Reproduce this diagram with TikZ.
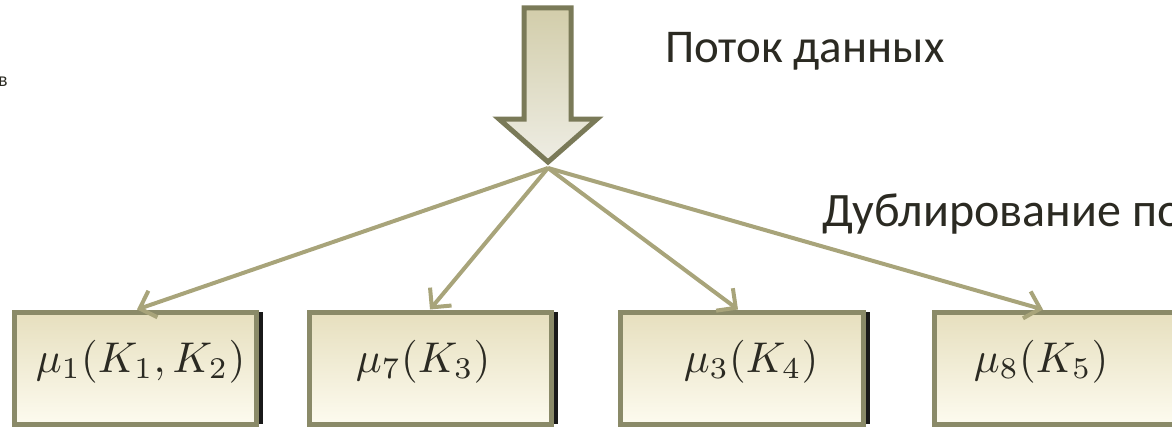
\documentclass[tikz,border=0pt]{standalone}
\usepackage[no-math]{fontspec}
\setmainfont{Carlito}
\usetikzlibrary{arrows.meta,shadows}
\definecolor{conncol}{HTML}{A8A47A}
\definecolor{boxborder}{HTML}{8A8A68}
\definecolor{arrowborder}{HTML}{7A7A58}
\definecolor{txt}{HTML}{2B2A22}
\definecolor{boxtop}{HTML}{E6DFBE}
\definecolor{boxbot}{HTML}{FDFBEF}
\definecolor{arrtop}{HTML}{D2CDAA}
\definecolor{arrbot}{HTML}{EEEDE4}
\tikzset{
  x=1pt,y=1pt,
  boxnode/.style={draw=boxborder, line width=5pt, top color=boxtop, bottom color=boxbot,
    minimum height=112pt, inner sep=0pt,
    general shadow={fill=black!90, shadow xshift=7pt, shadow yshift=0pt}},
  conn/.style={draw=conncol, line width=4pt, -{Straight Barb[length=14pt,width=28pt,line width=4pt]}},
  lbl/.style={text=txt, anchor=base west, inner sep=0pt},
  mlbl/.style={text=txt, font=\normalsize, anchor=base west, inner sep=0pt, scale=4.3, transform shape},
}
\begin{document}
\begin{tikzpicture}
\useasboundingbox (0,0) rectangle (1172,-428);
\clip (0,0) rectangle (1172,-428);
% big data arrow
\shade[top color=arrtop, bottom color=arrbot, draw=arrowborder, line width=5pt, line join=miter]
  (524,-8) -- (571,-8) -- (571,-119) -- (597,-119) -- (548,-162) -- (499,-119) -- (524,-119) -- cycle;
\coordinate (src) at (548,-168);
% boxes
\node[boxnode, minimum width=242pt] (b1) at (135,-368) {};
\node[boxnode, minimum width=242pt] (b2) at (430,-368) {};
\node[boxnode, minimum width=243pt] (b3) at (741.5,-368) {};
\node[boxnode, minimum width=251pt] (b4) at (1059.5,-368) {};
% labels in boxes
\node[mlbl] (t1) at (35,-372) {$\mu_1(K_1,K_2)$};
\node[mlbl] (t2) at (355,-372) {$\mu_7(K_3)$};
\node[mlbl] (t3) at (683,-372) {$\mu_3(K_4)$};
\node[mlbl] (t4) at (973,-372) {$\mu_8(K_5)$};
% connectors
\draw[conn] (src) -- ([xshift=2pt]b1.north);
\draw[conn] (src) -- (b2.north);
\draw[conn] (src) -- ([xshift=-3.5pt]b3.north);
\draw[conn] (src) -- ([xshift=-16.5pt]b4.north);
% texts
\node[lbl, font=\fontsize{47}{50}\selectfont] (flow) at (665,-63) {Поток данных};
\node[lbl, font=\fontsize{48}{52}\selectfont] (dup) at (822,-226) {Дублирование по};
\node[text=txt, font=\fontsize{20}{22}\selectfont, anchor=base east, inner sep=0pt] (v) at (8,-86) {в};
\end{tikzpicture}
\end{document}
